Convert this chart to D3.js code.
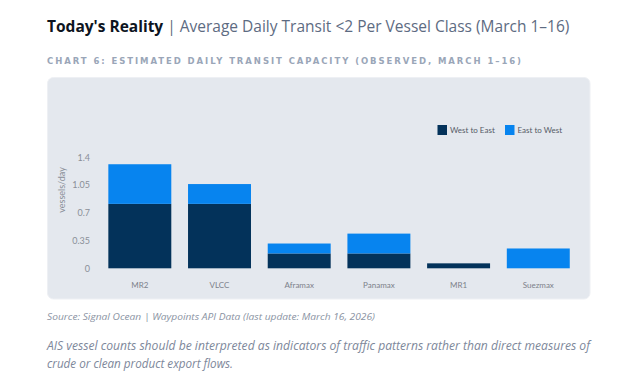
<!DOCTYPE html>
<html><head><meta charset="utf-8">
<script src="https://cdn.jsdelivr.net/npm/d3@7/dist/d3.min.js"></script>
<style>
html,body{margin:0;padding:0;background:#fff;}
svg{display:block;}
</style></head>
<body>
<svg id="c" width="637" height="384"></svg>
<script>
const categories = ["MR2","VLCC","Aframax","Panamax","MR1","Suezmax"];
const westToEast = [0.8125,0.8125,0.1875,0.1875,0.0625,0];
const eastToWest = [0.5,0.25,0.125,0.25,0,0.25];
const seriesNames = ["West to East","East to West"];
const seriesColors = ["#03325a","#0784ef"];
const yTicks = [0,0.35,0.7,1.05,1.4];

const svg = d3.select("#c");

// Title
const t = svg.append("text").attr("x",47).attr("y",32).style("font-family","'Open Sans',sans-serif").style("font-size","15.5px");
t.append("tspan").text("Today's Reality").style("font-weight","700").attr("fill","#0d1421");
t.append("tspan").text(" | Average Daily Transit <2 Per Vessel Class (March 1\u201316)").attr("fill","#5d6b82");

svg.append("text").attr("x",47).attr("y",64)
  .text("CHART 6: ESTIMATED DAILY TRANSIT CAPACITY (OBSERVED, MARCH 1\u201316)")
  .attr("textLength",474).attr("lengthAdjust","spacing")
  .style("font-family","'DejaVu Sans',sans-serif").style("font-size","8.5px").style("font-weight","700")
  .attr("fill","#9aa6b8");

// Card
svg.append("rect").attr("x",47.5).attr("y",77.5).attr("width",542.5).attr("height",221.5).attr("rx",6)
  .attr("fill","#e4e8ee").attr("stroke","#eef0f4").attr("stroke-width",1);

const y = d3.scaleLinear().domain([0,1.4]).range([268.3,157.3]);
const x = d3.scaleBand().domain(categories).range([92.4,585.7]).paddingInner(0.21).paddingOuter(0.2);

// Y ticks
const yAxis = d3.axisLeft(y).tickValues(yTicks).tickSize(0).tickPadding(0).tickFormat(d=>String(d));
const ga = svg.append("g").attr("transform","translate(90,0)").call(yAxis);
ga.select(".domain").remove();
ga.selectAll("text").style("font-family","Lato,sans-serif").style("font-size","9px").attr("fill","#8a8f98");

svg.append("text").attr("transform","translate(65,190) rotate(-90)").attr("text-anchor","middle")
  .text("vessels/day").style("font-family","Lato,sans-serif").style("font-size","9px").attr("fill","#8a8f98");

// X axis
const xAxis = d3.axisBottom(x).tickSize(0).tickPadding(0);
const gx = svg.append("g").attr("transform","translate(0,282)").call(xAxis);
gx.select(".domain").remove();
gx.selectAll("text").style("font-family","Lato,sans-serif").style("font-size","8px").attr("fill","#7c818a");

// Bars
const rows = categories.map((c,i)=>({cat:c, w:westToEast[i], e:eastToWest[i]}));
const stack = d3.stack().keys(["w","e"])(rows);
stack.forEach((s,si)=>{
  svg.append("g").selectAll("rect").data(s).join("rect")
    .attr("x",d=>x(d.data.cat)).attr("width",x.bandwidth())
    .attr("y",d=>y(d[1])).attr("height",d=>Math.max(0,y(d[0])-y(d[1])))
    .attr("fill",seriesColors[si]);
});

// Legend
const legX = [437.5, 505];
seriesNames.forEach((n,i)=>{
  svg.append("rect").attr("x",legX[i]).attr("y",125).attr("width",9.5).attr("height",10).attr("fill",seriesColors[i]);
  svg.append("text").attr("x",legX[i]+12.5).attr("y",133).text(n)
    .style("font-family","Lato,sans-serif").style("font-size","8px").attr("fill","#555b66");
});

// Footer
svg.append("text").attr("x",47).attr("y",320)
  .text("Source: Signal Ocean | Waypoints API Data (last update: March 16, 2026)")
  .attr("textLength",328).attr("lengthAdjust","spacingAndGlyphs")
  .style("font-family","'Open Sans',sans-serif").style("font-size","9px").style("font-style","italic").attr("fill","#8a93a3");
const notes = ["AIS vessel counts should be interpreted as indicators of traffic patterns rather than direct measures of","crude or clean product export flows."];
const noteLen = [543, 186];
notes.forEach((n,i)=>{
  svg.append("text").attr("x",47).attr("y",350+i*18).text(n)
    .attr("textLength",noteLen[i]).attr("lengthAdjust","spacingAndGlyphs")
    .style("font-family","'Open Sans',sans-serif").style("font-size","12px").style("font-style","italic").attr("fill","#7d879a");
});
</script>
</body></html>
